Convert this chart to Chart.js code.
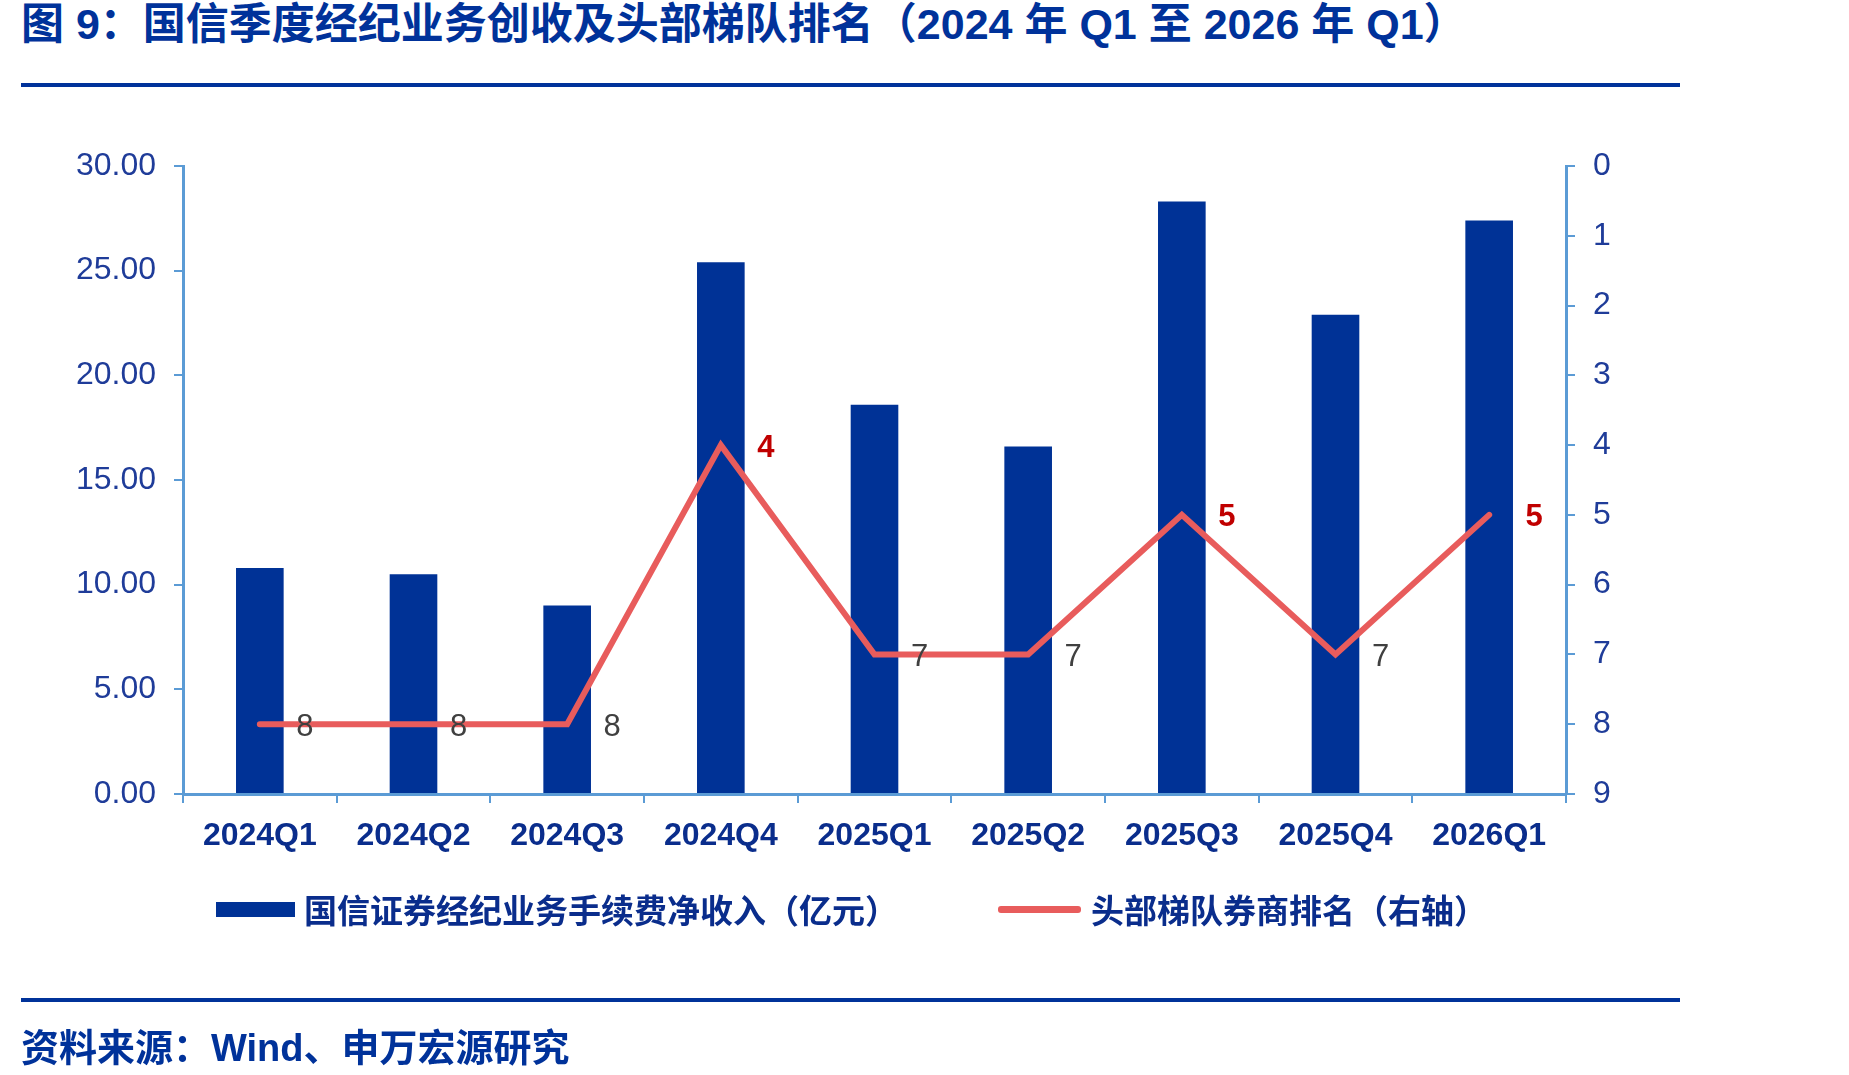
<!DOCTYPE html>
<html>
<head>
<meta charset="utf-8">
<script src="https://cdn.jsdelivr.net/npm/chart.js@4"></script>
<style>
    html, body { margin: 0; padding: 0; background: #ffffff; }
    body { width: 1849px; height: 1075px; position: relative; overflow: hidden; font-family: "Liberation Sans", "Noto Sans CJK SC", sans-serif; }
    #rankChart { position: absolute; left: 0; top: 0; }
    .title { position: absolute; left: 21px; top: -2px; font-size: 43px; font-weight: bold; color: #00329a; white-space: nowrap; line-height: 52px; }
    .rule { position: absolute; left: 21px; width: 1659px; height: 4px; background: #00329a; }
    .legend { position: absolute; top: 885px; left: 216px; display: flex; align-items: center; font-size: 33px; font-weight: bold; color: #0a2d8c; white-space: nowrap; }
    .sw-bar { width: 79px; height: 15px; background: #003296; margin-right: 9px; }
    .sw-line { width: 83px; height: 7px; background: #e85c5c; border-radius: 3px; margin-left: 100px; margin-right: 10px; }
    .source { position: absolute; left: 21px; top: 1017px; font-size: 38px; font-weight: bold; color: #00329a; white-space: nowrap; }
</style>
</head>
<body>
<div class="title">图 9：国信季度经纪业务创收及头部梯队排名（2024 年 Q1 至 2026 年 Q1）</div>
<div class="rule" style="top:83px"></div>
<canvas id="rankChart" width="1849" height="1075"></canvas>
<div class="legend">
    <span class="sw-bar"></span><span>国信证券经纪业务手续费净收入（亿元）</span>
    <span class="sw-line"></span><span>头部梯队券商排名（右轴）</span>
</div>
<div class="rule" style="top:998px"></div>
<div class="source">资料来源：Wind、申万宏源研究</div>

<script>
/* ---------- Data ---------- */
const quarters = ["2024Q1", "2024Q2", "2024Q3", "2024Q4", "2025Q1", "2025Q2", "2025Q3", "2025Q4", "2026Q1"];
const brokerageIncome = [10.8, 10.5, 9.0, 25.4, 18.6, 16.6, 28.3, 22.9, 27.4];
const headRank = [8, 8, 8, 4, 7, 7, 5, 7, 5];
const leftTicks = [0, 5, 10, 15, 20, 25, 30];
const rightTicks = [0, 1, 2, 3, 4, 5, 6, 7, 8, 9];

const seriesNames = ["国信证券经纪业务手续费净收入（亿元）", "头部梯队券商排名（右轴）"];

/* ---------- Colours ---------- */
const c = { bar: "#003296", line: "#e85c5c", axis: "#5b9bd5", tick: "#1f3c99", xTick: "#0a2d8c", hot: "#c00000", plain: "#404040" };

/* ---------- Rank labels next to line points ---------- */
const rankLabels = {
    id: "rankLabels",
    afterDatasetsDraw(chart) {
        const meta = chart.getDatasetMeta(1);
        const ctx = chart.ctx;
        ctx.save();
        ctx.textAlign = "center";
        ctx.textBaseline = "middle";
        meta.data.forEach(function (pt, i) {
            const v = headRank[i];
            const top = v <= 5;
            ctx.font = (top ? "bold " : "") + "31px 'Liberation Sans', sans-serif";
            ctx.fillStyle = top ? c.hot : c.plain;
            ctx.fillText(String(v), pt.x + 45, pt.y + 3);
        });
        ctx.restore();
    }
};

new Chart(document.getElementById("rankChart").getContext("2d"), {
    data: {
        labels: quarters,
        datasets: [
            { type: "bar", label: seriesNames[0], data: brokerageIncome, backgroundColor: c.bar, yAxisID: "y", barPercentage: 0.31, categoryPercentage: 1, order: 2 },
            { type: "line", label: seriesNames[1], data: headRank, borderColor: c.line, borderWidth: 6, pointRadius: 0, tension: 0, yAxisID: "y1", order: 1, borderCapStyle: "round", borderJoinStyle: "miter" }
        ]
    },
    options: {
        responsive: false,
        animation: false,
        layout: { padding: { top: 166, left: 0, right: 0, bottom: 0 } },
        plugins: { legend: { display: false }, tooltip: { enabled: false } },
        scales: {
            x: {
                offset: true,
                afterFit: function (s) { s.height = 281; },
                grid: { display: true, drawOnChartArea: false, offset: true, color: c.axis, lineWidth: 2, tickLength: 9 },
                border: { color: c.axis, width: 3 },
                ticks: { color: c.xTick, padding: 14, font: { size: 32, weight: "bold", family: "'Liberation Sans', sans-serif" } }
            },
            y: {
                position: "left",
                min: 0, max: 30,
                afterFit: function (s) { s.width = 183; },
                afterBuildTicks: function (s) { s.ticks = leftTicks.map(function (v) { return { value: v }; }); },
                grid: { display: true, drawOnChartArea: false, color: c.axis, lineWidth: 2, tickLength: 9 },
                border: { color: c.axis, width: 3 },
                ticks: { color: c.tick, padding: 18, font: { size: 32, family: "'Liberation Sans', sans-serif" }, callback: function (v) { return v.toFixed(2); } }
            },
            y1: {
                position: "right",
                reverse: true,
                min: 0, max: 9,
                afterFit: function (s) { s.width = 283; },
                afterBuildTicks: function (s) { s.ticks = rightTicks.map(function (v) { return { value: v }; }); },
                grid: { display: true, drawOnChartArea: false, color: c.axis, lineWidth: 2, tickLength: 9 },
                border: { color: c.axis, width: 3 },
                ticks: { color: c.tick, padding: 18, font: { size: 32, family: "'Liberation Sans', sans-serif" } }
            }
        }
    },
    plugins: [rankLabels]
});
</script>
</body>
</html>
